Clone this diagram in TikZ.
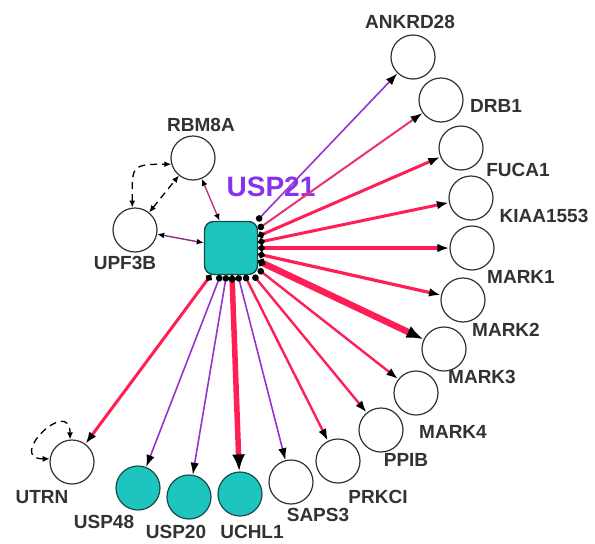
\documentclass[tikz,border=0pt]{standalone}
\usepackage{fontspec}
\setmainfont{Liberation Sans}
\usepackage{tikz}
\usetikzlibrary{arrows.meta}

\definecolor{hubcyan}{RGB}{30,196,190}
\definecolor{hubedge}{RGB}{25,75,75}
\definecolor{spokered}{RGB}{255,30,85}
\definecolor{spokepink}{RGB}{232,50,115}
\definecolor{spokepurple}{RGB}{150,50,205}
\definecolor{linkmauve}{RGB}{190,55,130}
\definecolor{linkpurple}{RGB}{145,40,145}
\definecolor{labelgray}{RGB}{50,50,50}
\definecolor{hubtext}{RGB}{135,50,235}

\begin{document}
\begin{tikzpicture}[x=1pt,y=-1pt,
  gene/.style={draw=labelgray,circle,minimum size=44pt,inner sep=0pt,line width=1.2pt,fill=white},
  hitgene/.style={gene,draw=hubedge,fill=hubcyan},
  genelabel/.style={font=\fontsize{19}{22}\selectfont\bfseries,text=labelgray,inner sep=0pt},
  spoke/.style={line width=#1,{Circle[length=6.5pt,black]}-{Latex[length=12pt,width=8.5pt,black]}},
  bigspoke/.style={line width=#1,{Circle[length=7.5pt,black]}-{Latex[length=17pt,width=13pt,black]}},
  link/.style={line width=1.4pt,{Latex[length=7pt,width=6pt,black]}-{Latex[length=7pt,width=6pt,black]}},
  dashlink/.style={line width=1.3pt,black,dash pattern=on 7pt off 5pt,{Latex[length=7pt,width=6pt]}-{Latex[length=7pt,width=6pt]}}]
\useasboundingbox (0,0) rectangle (595,544);

% hub
\node[name=USP21,draw=hubedge,fill=hubcyan,rounded corners=9pt,minimum size=53pt,line width=1.4pt] at (231,248) {};
\node[name=USP21-Label,font=\fontsize{28}{30}\selectfont\bfseries,text=hubtext,inner sep=0pt] at (271,187) {USP21};

% targets
\node[name=ANKRD28,gene] at (413,57) {};
\node[name=DRB1,gene] at (441,100) {};
\node[name=FUCA1,gene] at (461,148) {};
\node[name=KIAA1553,gene] at (471,198) {};
\node[name=MARK1,gene] at (472,248) {};
\node[name=MARK2,gene] at (463,300) {};
\node[name=MARK3,gene] at (444,349) {};
\node[name=MARK4,gene] at (416,393) {};
\node[name=PPIB,gene] at (381,430) {};
\node[name=PRKCI,gene] at (338,461) {};
\node[name=SAPS3,gene] at (291,482) {};
\node[name=UCHL1,hitgene] at (240,494) {};
\node[name=USP20,hitgene] at (189,497) {};
\node[name=USP48,hitgene] at (138,488) {};
\node[name=UTRN,gene] at (72,462) {};
\node[name=RBM8A,gene] at (193,158) {};
\node[name=UPF3B,gene] at (135,230) {};

% labels
\node[name=ANKRD28-Label,genelabel] at (410,22) {ANKRD28};
\node[name=DRB1-Label,genelabel] at (496,106) {DRB1};
\node[name=FUCA1-Label,genelabel] at (518,170) {FUCA1};
\node[name=KIAA1553-Label,genelabel] at (544,216) {KIAA1553};
\node[name=MARK1-Label,genelabel] at (521,277) {MARK1};
\node[name=MARK2-Label,genelabel] at (506,330) {MARK2};
\node[name=MARK3-Label,genelabel] at (482,377) {MARK3};
\node[name=MARK4-Label,genelabel] at (453,432) {MARK4};
\node[name=PPIB-Label,genelabel] at (406,460) {PPIB};
\node[name=PRKCI-Label,genelabel] at (378,497) {PRKCI};
\node[name=SAPS3-Label,genelabel] at (318,515) {SAPS3};
\node[name=UCHL1-Label,genelabel] at (252,532) {UCHL1};
\node[name=USP20-Label,genelabel] at (176,532) {USP20};
\node[name=USP48-Label,genelabel] at (104,522) {USP48};
\node[name=UTRN-Label,genelabel] at (42,497) {UTRN};
\node[name=RBM8A-Label,genelabel] at (201,125) {RBM8A};
\node[name=UPF3B-Label,genelabel] at (125,263) {UPF3B};

% spokes from USP21
\draw[spoke=1.6pt,draw=spokepurple] (USP21) -- (ANKRD28);
\draw[spoke=2pt,draw=spokepink] (USP21) -- (DRB1);
\draw[spoke=3pt,draw=spokered] (USP21) -- (FUCA1);
\draw[spoke=3pt,draw=spokered] (USP21) -- (KIAA1553);
\draw[spoke=3.2pt,draw=spokered] (USP21) -- (MARK1);
\draw[spoke=3.2pt,draw=spokered] (USP21) -- (MARK2);
\draw[bigspoke=6.5pt,draw=spokered] (USP21) -- (MARK3);
\draw[spoke=2.4pt,draw=spokered] (USP21) -- (MARK4);
\draw[spoke=2.4pt,draw=spokered] (USP21) -- (PPIB);
\draw[spoke=2.4pt,draw=spokered] (USP21) -- (PRKCI);
\draw[spoke=1.6pt,draw=spokepurple] (USP21) -- (SAPS3);
\draw[bigspoke=5.5pt,draw=spokered] (USP21) -- (UCHL1);
\draw[spoke=1.6pt,draw=spokepurple] (USP21) -- (USP20);
\draw[spoke=1.6pt,draw=spokepurple] (USP21) -- (USP48);
\draw[spoke=3pt,draw=spokered] (USP21) -- (UTRN);

% other links
\draw[link,draw=linkmauve] (RBM8A) -- (USP21);
\draw[link,draw=linkpurple] (UPF3B) -- (USP21);
\draw[dashlink] (UPF3B) -- (RBM8A);
\draw[dashlink] (UPF3B.97) to[out=90,in=180,looseness=1.8] (RBM8A.196);
\draw[dashlink] (UTRN.172) to[out=180,in=90,looseness=4] (UTRN.95);
\end{tikzpicture}
\end{document}
